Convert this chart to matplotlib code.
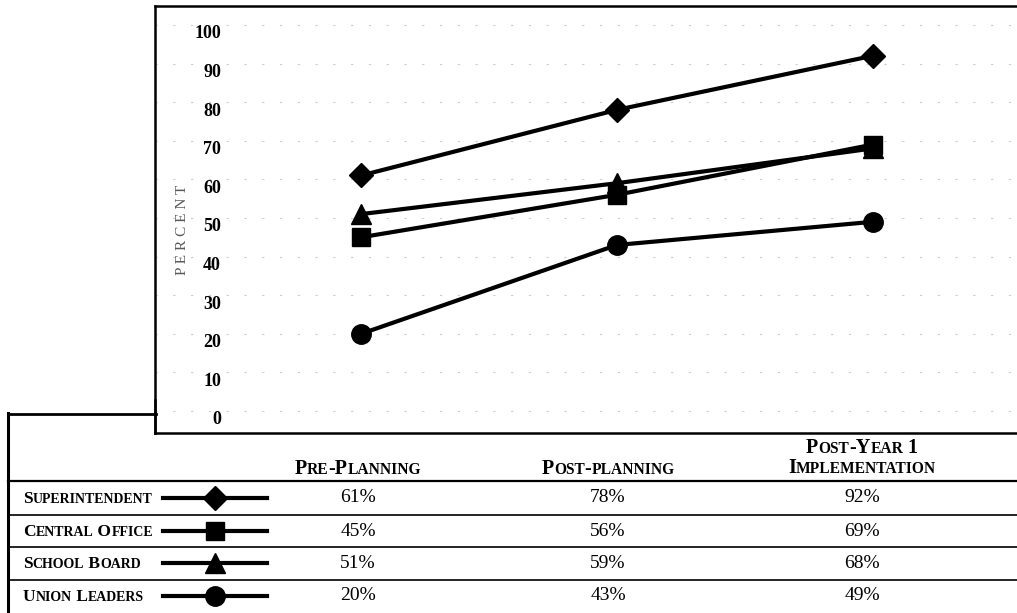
import matplotlib
matplotlib.use("Agg")
import matplotlib.pyplot as plt
from matplotlib.lines import Line2D
from matplotlib.transforms import offset_copy

# ------------------------------------------------------------
# data
# ------------------------------------------------------------
stages = ["Pre-Planning", "Post-planning", "Post-Year 1\nImplementation"]
groups = ["Superintendent", "Central Office", "School Board", "Union Leaders"]
markers = ["D", "s", "^", "o"]
msizes = [12, 13, 14, 14]

superintendent = [61, 78, 92]
central_office = [45, 56, 69]
school_board = [51, 59, 68]
union_leaders = [20, 43, 49]
series = [superintendent, central_office, school_board, union_leaders]

yticks = [0, 10, 20, 30, 40, 50, 60, 70, 80, 90, 100]

W, H = 1017, 613
SERIF = ["Liberation Serif", "DejaVu Serif"]

fig = plt.figure(figsize=(W / 100, H / 100), dpi=100)
fig.patch.set_facecolor("white")
r = fig.canvas.get_renderer()


def fx(px):
    return px / W


def fy(py):
    return 1 - py / H


def sc_runs(s):
    # split text into small-caps runs: (text, is_big)
    runs = []
    for ch in s:
        big = not ch.islower()
        if runs and runs[-1][1] == big:
            runs[-1][0] += ch
        else:
            runs.append([ch, big])
    return runs


def smallcaps(x, y, s, big=13, small=10, ha="left"):
    # x, y in pixels (y measured from top), y is the baseline
    texts = []
    for run, is_big in sc_runs(s):
        t = fig.text(0, 0, run.upper(), size=big if is_big else small,
                     weight="bold", family=SERIF, va="baseline")
        texts.append(t)
    widths = [t.get_window_extent(r).width for t in texts]
    total = sum(widths)
    x0 = x if ha == "left" else x - total / 2
    for t, w in zip(texts, widths):
        t.set_position((fx(x0), fy(y)))
        x0 += w


# ------------------------------------------------------------
# chart box
# ------------------------------------------------------------
ax = fig.add_axes([fx(155), fy(433), fx(1030 - 155), (433 - 6) / H])
ax.set_xlim(-0.806, 2.615)
ax.set_ylim(-5.7, 104.9)

for s_vals, m, ms in zip(series, markers, msizes):
    ax.plot(range(len(stages)), s_vals, color="black", lw=3,
            marker=m, ms=ms, mfc="black", mec="black", zorder=3)

ax.set_yticks(yticks)
ax.set_xticks([])
ax.tick_params(axis="y", length=0, labelleft=False)
ax.grid(axis="y", color="0.8", lw=0.8, linestyle=(0, (2, 14)))
for side in ["left", "top", "bottom"]:
    ax.spines[side].set_linewidth(1.8)
ax.spines["right"].set_visible(False)

# tick labels sit inside the box, a little below their gridline
lbl_tr = offset_copy(ax.transData, fig=fig, x=0, y=-9 * 0.72, units="points")
for v in yticks:
    ax.text(-0.548, v, str(v), transform=lbl_tr, ha="right", va="center",
            fontsize=13, weight="bold", family=SERIF)

ax.text(-0.70, 47, "P E R C E N T", rotation=90, ha="center", va="center",
        fontsize=11, color="0.35", family=SERIF)

# ------------------------------------------------------------
# table
# ------------------------------------------------------------
def hline(x1, x2, y, lw=1.4, color="black"):
    fig.add_artist(Line2D([fx(x1), fx(x2)], [fy(y), fy(y)], lw=lw,
                          color=color, transform=fig.transFigure))


def vline(x, y1, y2, lw=2.2):
    fig.add_artist(Line2D([fx(x), fx(x)], [fy(y1), fy(y2)], lw=lw,
                          color="black", transform=fig.transFigure))


hline(8, 156, 414, lw=2.0)
vline(8, 413, 613)
vline(155, 400, 433, lw=1.8)
hline(8, 1017, 481, lw=1.6)
hline(8, 1017, 515, lw=1.2)
hline(8, 1017, 547, lw=1.2)
hline(8, 1017, 580, lw=1.2)

col_x = [358, 608, 862]
row_y = [498, 531, 563, 596]

# column headers
smallcaps(col_x[0], 474, "Pre-Planning", big=14.5, small=11.2, ha="center")
smallcaps(col_x[1], 474, "Post-planning", big=14.5, small=11.2, ha="center")
smallcaps(col_x[2], 453, "Post-Year 1", big=14.5, small=11.2, ha="center")
smallcaps(col_x[2], 473, "Implementation", big=14.5, small=11.2, ha="center")

for g, m, ms, s_vals, yy in zip(groups, markers, msizes, series, row_y):
    smallcaps(23, yy + 5, g, big=12.5, small=10)
    fig.add_artist(Line2D([fx(163), fx(215), fx(267)], [fy(yy)] * 3,
                          lw=3, color="black", marker=m, ms=ms,
                          markevery=[1], transform=fig.transFigure))
    for cx, v in zip(col_x, s_vals):
        fig.text(fx(cx), fy(yy), f"{v}%", ha="center", va="center",
                 fontsize=14, family=SERIF)

fig.savefig("out.png", dpi=100, facecolor="white")
